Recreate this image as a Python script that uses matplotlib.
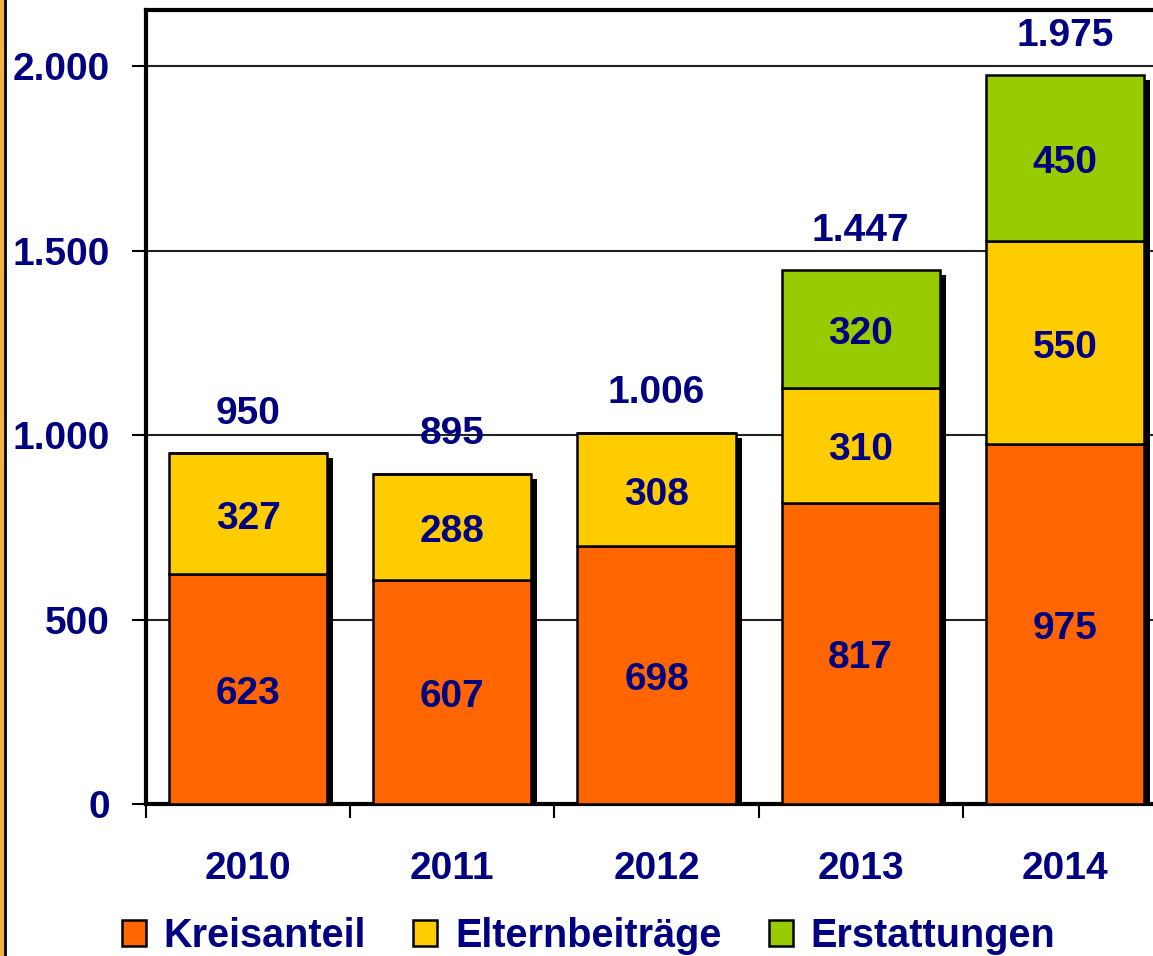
import matplotlib.pyplot as plt
import matplotlib.transforms as mtransforms
from matplotlib.lines import Line2D
from matplotlib.patches import Patch
import numpy as np

years = ['2010', '2011', '2012', '2013', '2014']
kreisanteil = [623, 607, 698, 817, 975]
elternbeitraege = [327, 288, 308, 310, 550]
erstattungen = [0, 0, 0, 320, 450]
series_names = ['Kreisanteil', 'Elternbeiträge', 'Erstattungen']
y_ticks = [0, 500, 1000, 1500, 2000]

colors = ['#FF6600', '#FFCC00', '#99CC00']
navy = '#000080'
font = 'Liberation Sans'


def fmt(v):
    return f'{v:,.0f}'.replace(',', '.')


fig = plt.figure(figsize=(11.53, 9.56), dpi=100)
ax = fig.add_axes([146 / 1153, 1 - 804 / 956, (1167 - 146) / 1153, (804 - 10) / 956])

x = np.arange(len(years))
width = 0.775
series = [kreisanteil, elternbeitraege, erstattungen]
totals = np.sum(series, axis=0)

# shadow behind each full bar
shadow = mtransforms.offset_copy(ax.transData, fig=fig, x=6, y=-5, units='dots')
ax.bar(x, totals, width, color='black', transform=shadow, zorder=2)

bottom = np.zeros(len(years))
for vals, col in zip(series, colors):
    vals = np.array(vals)
    ax.bar(x, vals, width, bottom=bottom, color=col, edgecolor='black',
           linewidth=1.8, zorder=3)
    for xi, v, b in zip(x, vals, bottom):
        if v > 0:
            ax.annotate(fmt(v), (xi, b + v / 2), xytext=(0, -3.5),
                        textcoords='offset points', ha='center', va='center',
                        color=navy, fontsize=28, fontweight='bold',
                        family=font, zorder=5)
    bottom += vals

for xi, t in zip(x, totals):
    ax.annotate(fmt(t), (xi, t), xytext=(0, 15.5), textcoords='offset points',
                ha='center', va='bottom', color=navy, fontsize=28,
                fontweight='bold', family=font, zorder=5)

ax.set_xlim(-0.5, len(years) - 0.5)
ax.set_ylim(0, 2152)
ax.set_yticks(y_ticks)
ax.set_yticklabels([fmt(v) for v in y_ticks])
ax.yaxis.grid(True, color='#222222', linewidth=1.5, zorder=0)
ax.set_axisbelow(True)

ax.set_xticks(x)
ax.set_xticklabels(years)
ax.set_xticks(np.arange(-0.5, len(years)), minor=True)
ax.tick_params(axis='x', which='major', length=0, pad=34)
ax.tick_params(axis='x', which='minor', length=10, width=1.5, direction='out')
ax.tick_params(axis='y', length=10, width=1.5, direction='out', pad=16)

for lab in ax.get_xticklabels() + ax.get_yticklabels():
    lab.set_fontsize(28)
    lab.set_fontweight('bold')
    lab.set_color(navy)
    lab.set_family(font)

for side in ['left', 'bottom', 'top']:
    ax.spines[side].set_linewidth(3)
    ax.spines[side].set_color('black')
ax.spines['right'].set_visible(False)

# border line at the left edge of the slide
fig.add_artist(Line2D([0.0015, 0.0015], [0, 1], color='#F5B041', linewidth=3,
                      transform=fig.transFigure))
fig.add_artist(Line2D([0.0045, 0.0045], [0, 1], color='black', linewidth=2,
                      transform=fig.transFigure))

handles = [Patch(facecolor=c, edgecolor='black', linewidth=1.8) for c in colors]
leg = fig.legend(handles, series_names, loc='center', bbox_to_anchor=(0.5105, 1 - 936 / 956),
                 ncol=3, frameon=False, handlelength=0.6, handleheight=0.6,
                 handletextpad=0.45, columnspacing=1.2, borderpad=0,
                 prop={'family': font, 'weight': 'bold', 'size': 28.5})
for t in leg.get_texts():
    t.set_color(navy)

fig.savefig('out.png', dpi=100)
